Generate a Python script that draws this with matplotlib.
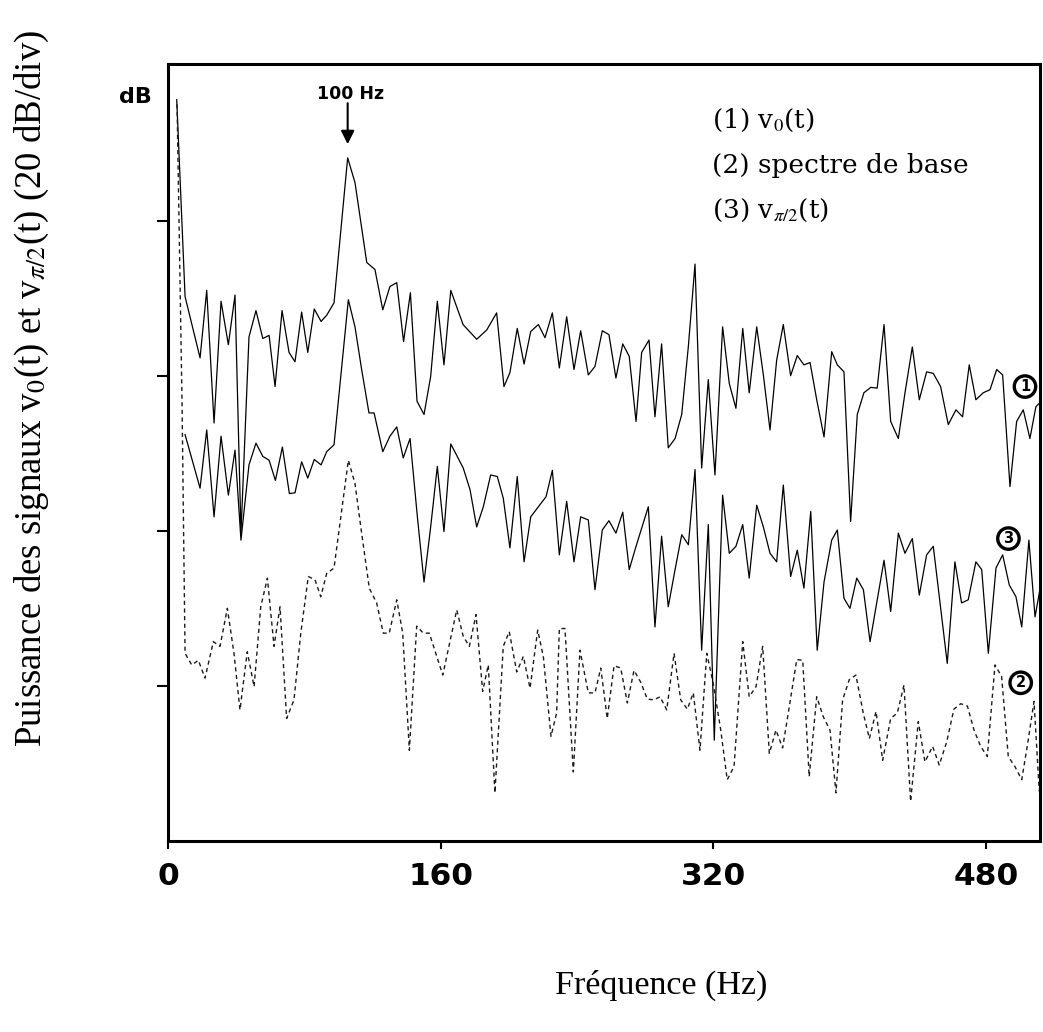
import matplotlib
matplotlib.use("Agg")
import matplotlib.pyplot as plt

plt.rcParams["mathtext.fontset"] = "stix"

# frequency (Hz) and power (dB)
freq_v0 = [5.1, 10.0, 18.8, 22.7, 27.0, 31.1, 35.4, 39.3, 42.8, 47.5, 51.6, 55.6, 59.3, 62.8,
           66.9, 71.0, 74.5, 78.4, 82.0, 85.8, 89.8, 93.1, 97.4, 105.4, 109.7, 116.6, 121.4,
           126.0, 130.2, 134.2, 138.2, 142.2, 146.1, 150.2, 154.1, 158.0, 161.9, 165.9, 173.1,
           181.1, 187.0, 192.8, 197.1, 200.6, 204.9, 208.9, 212.8, 217.3, 221.2, 225.5, 229.6,
           233.9, 238.2, 242.1, 246.6, 250.5, 254.8, 258.7, 262.8, 266.8, 270.6, 274.6, 277.9,
           282.2, 285.7, 289.6, 293.5, 297.5, 301.4, 305.3, 309.2, 313.1, 317.0, 320.9, 325.4,
           329.3, 333.2, 337.2, 341.0, 345.4, 349.3, 353.2, 357.1, 361.0, 365.3, 369.2, 373.1,
           376.7, 380.6, 384.9, 389.4, 392.7, 396.6, 400.5, 404.4, 408.3, 412.3, 416.1, 420.1,
           424.0, 428.5, 432.4, 436.7, 440.8, 445.1, 449.0, 453.3, 457.8, 462.3, 466.2, 470.1,
           474.0, 478.3, 482.3, 486.2, 489.7, 494.0, 497.9, 501.8, 505.7, 509.2, 513.2]
db_v0 = [95.6, 70.2, 62.3, 71.0, 53.9, 69.6, 64.0, 70.4, 39.7, 65.0, 68.4, 64.8, 65.2, 58.6,
         68.4, 63.0, 61.8, 68.2, 63.0, 68.6, 67.0, 67.8, 69.4, 88.1, 84.9, 74.6, 73.7,
         68.5, 71.5, 72.0, 64.4, 70.7, 56.7, 55.0, 59.9, 69.6, 61.4, 71.0, 66.6,
         64.7, 65.9, 68.1, 58.6, 60.4, 66.1, 61.5, 65.7, 66.6, 64.9, 68.1, 61.0,
         67.6, 60.8, 65.8, 60.1, 61.2, 65.8, 65.3, 59.7, 64.1, 62.5, 54.1, 63.0,
         64.6, 54.7, 64.1, 50.7, 51.9, 55.0, 63.8, 74.4, 48.1, 59.5, 47.2, 66.3,
         59.0, 55.8, 66.1, 57.8, 66.3, 60.1, 53.0, 62.0, 66.6, 60.0, 62.6, 61.4,
         61.7, 56.9, 52.1, 63.1, 61.4, 60.5, 41.2, 55.0, 57.8, 58.5, 58.4, 66.6,
         54.1, 51.9, 57.8, 63.7, 56.9, 60.5, 60.3, 58.6, 53.7, 55.6, 54.7, 61.4,
         56.9, 57.8, 58.2, 60.8, 60.1, 45.7, 54.1, 55.6, 51.9, 56.0, 56.9]

freq_vpi2 = [10.0, 18.8, 22.7, 27.0, 31.1, 35.4, 39.3, 42.8, 47.5, 51.6, 55.6, 59.3, 63.0, 67.1,
             71.2, 74.5, 78.4, 82.0, 85.8, 89.8, 93.1, 97.4, 105.8, 109.7, 113.6, 117.9, 120.9,
             126.0, 130.2, 134.2, 138.0, 142.0, 146.3, 150.2, 154.1, 158.0, 161.9, 165.9, 173.2,
             177.2, 181.1, 185.0, 189.3, 193.2, 196.7, 200.6, 204.9, 208.9, 212.8, 217.3, 221.8,
             225.5, 229.6, 233.9, 238.2, 242.1, 246.6, 250.5, 254.8, 258.7, 262.8, 266.8, 270.6,
             274.6, 281.8, 285.7, 289.6, 293.5, 297.5, 301.4, 305.3, 309.2, 313.1, 317.0, 320.5,
             325.4, 329.3, 333.2, 337.2, 341.0, 345.4, 349.3, 353.2, 357.1, 361.0, 365.3, 369.2,
             373.1, 377.1, 380.9, 384.9, 389.4, 392.7, 396.6, 400.1, 404.1, 408.0, 411.9, 420.1,
             424.0, 428.5, 432.4, 436.7, 440.8, 445.1, 449.0, 457.2, 461.7, 465.6, 469.5, 474.0,
             477.4, 481.3, 485.8, 489.7, 493.6, 497.5, 500.9, 505.1, 508.7, 512.6]
db_vpi2 = [52.4, 45.5, 53.0, 41.8, 52.2, 44.6, 50.4, 38.8, 48.5, 51.3, 49.6, 49.1, 46.5, 50.8,
           44.8, 44.9, 48.9, 46.8, 49.2, 48.5, 50.2, 51.1, 69.8, 66.3, 60.8, 55.2, 55.2,
           50.2, 52.2, 53.4, 49.4, 51.9, 41.8, 33.4, 40.5, 48.3, 39.9, 51.2, 48.1,
           45.3, 40.5, 43.1, 47.2, 47.0, 44.2, 37.8, 47.0, 36.0, 41.8, 43.1, 44.4,
           47.8, 36.9, 43.8, 36.0, 41.8, 41.4, 32.4, 40.1, 41.3, 39.7, 42.4, 35.0,
           38.0, 43.1, 27.6, 39.3, 30.2, 35.0, 39.5, 38.2, 47.9, 24.6, 40.8, 13.0,
           44.6, 37.1, 38.0, 40.8, 33.9, 43.3, 40.5, 37.1, 36.0, 45.9, 34.1, 37.5,
           32.6, 42.5, 24.6, 33.4, 38.8, 40.1, 31.3, 30.0, 33.9, 32.4, 25.7, 36.2,
           29.6, 39.7, 37.1, 39.0, 31.7, 36.9, 38.0, 22.9, 36.0, 30.7, 31.1, 36.0,
           35.0, 24.2, 35.2, 36.9, 33.0, 31.5, 27.6, 38.8, 28.9, 33.7]

freq_base = [5.3, 8.2, 10.0, 13.9, 17.8, 21.7, 26.6, 30.5, 34.8, 38.7, 42.2, 46.5, 50.5, 54.4,
             58.3, 62.2, 65.7, 69.6, 73.9, 77.9, 82.3, 86.2, 89.6, 93.1, 97.4, 105.8, 109.7,
             113.6, 118.1, 122.4, 126.3, 129.8, 134.2, 137.7, 141.6, 145.9, 149.8, 153.3, 161.2,
             169.4, 173.2, 176.8, 180.7, 184.6, 187.9, 191.8, 196.7, 200.2, 204.6, 208.5, 212.4,
             216.9, 220.2, 224.7, 228.0, 229.6, 232.9, 237.8, 241.7, 246.6, 250.5, 253.9, 257.7,
             261.7, 265.6, 269.5, 273.4, 277.3, 281.2, 285.1, 288.7, 292.6, 296.9, 300.8, 304.7,
             308.2, 312.1, 316.1, 319.9, 324.3, 328.1, 332.1, 337.2, 341.0, 345.0, 348.9, 352.8,
             356.7, 360.6, 364.5, 368.9, 372.4, 376.2, 380.6, 384.5, 388.4, 391.9, 395.8, 399.7,
             403.6, 407.9, 411.5, 415.4, 419.3, 424.0, 427.9, 431.8, 435.7, 440.2, 444.1, 448.6,
             452.5, 456.9, 461.1, 465.1, 469.0, 472.9, 476.8, 480.7, 485.2, 489.1, 493.0, 496.9,
             500.9, 504.7, 508.1, 511.2]
db_base = [95.0, 56.9, 24.2, 22.7, 23.3, 21.0, 25.7, 25.1, 30.0, 24.2, 16.9, 24.4, 19.9, 30.2,
           33.9, 25.1, 30.2, 15.8, 18.2, 26.8, 34.1, 33.7, 31.5, 34.5, 35.2, 49.1, 46.1,
           39.7, 32.6, 30.7, 26.8, 26.8, 31.1, 26.8, 11.7, 27.7, 26.8, 26.8, 21.4,
           29.8, 26.4, 25.1, 29.2, 19.3, 22.7, 6.2, 25.1, 27.0, 21.8, 23.8, 19.7,
           27.2, 23.8, 13.5, 16.5, 27.4, 27.4, 8.9, 24.6, 19.1, 19.1, 22.3, 15.8,
           22.6, 22.3, 17.8, 22.0, 20.5, 18.3, 18.2, 18.6, 16.9, 24.2, 18.2, 17.0,
           19.1, 11.7, 24.2, 20.3, 14.3, 7.9, 9.6, 25.7, 18.6, 19.9, 25.1, 11.3,
           14.3, 12.0, 17.3, 23.4, 23.3, 8.3, 18.6, 16.0, 14.3, 6.2, 18.2, 20.8,
           21.4, 16.5, 13.2, 16.7, 10.4, 15.8, 16.5, 20.1, 5.1, 15.4, 10.2, 12.2,
           9.8, 12.8, 17.0, 17.7, 17.4, 14.3, 12.2, 10.9, 22.7, 21.2, 10.9, 9.6,
           7.9, 13.0, 18.0, 6.4]

x_ticks = [0, 160, 320, 480]
y_ticks = [20, 40, 60, 80]
legend_lines = ["(1) v$_0$(t)", "(2) spectre de base", "(3) v$_{\\pi/2}$(t)"]

fig = plt.figure(figsize=(10.43, 10.32), dpi=100)
ax = fig.add_axes([0.1611, 0.1851, 0.8360, 0.7529])

ax.plot(freq_v0, db_v0, color="black", lw=0.9)
ax.plot(freq_vpi2, db_vpi2, color="black", lw=0.9)
ax.plot(freq_base, db_base, color="#1a1a1a", lw=1.0, linestyle=(0, (3, 2.5)))

ax.set_xlim(0, 511.6)
ax.set_ylim(0, 100.2)

for s in ax.spines.values():
    s.set_linewidth(2.2)

ax.set_xticks(x_ticks)
ax.set_xticklabels([str(t) for t in x_ticks], fontsize=22.5, fontweight="bold",
                   family="DejaVu Sans")
ax.set_yticks(y_ticks)
ax.set_yticklabels([])
ax.tick_params(axis="x", direction="out", length=6, width=1.5, pad=9)
ax.tick_params(axis="y", direction="out", length=8, width=1.5)

# annotations
ax.annotate("", xy=(105.4, 89.5), xytext=(105.4, 95.5),
            arrowprops=dict(arrowstyle="-|>", color="black", lw=1.5, mutation_scale=20))
ax.text(107.0, 96.3, "100 Hz", ha="center", va="center", fontsize=12.5,
        fontweight="bold", family="DejaVu Sans")
fig.text(135 / 1043, 1 - 97 / 1032, "dB", ha="center", va="center", fontsize=16,
         fontweight="bold", family="DejaVu Sans")

for i, line in enumerate(legend_lines):
    fig.text(712 / 1043, 1 - (120 + i * 45) / 1032, line, ha="left", va="center",
             fontsize=19, family="DejaVu Serif")

circ = dict(boxstyle="circle,pad=0.22", fc="white", ec="black", lw=2.4)
ax.text(502.8, 58.6, "1", ha="center", va="center", fontsize=10.5, fontweight="bold", bbox=circ)
ax.text(493.1, 39.0, "3", ha="center", va="center", fontsize=10.5, fontweight="bold", bbox=circ)
ax.text(500.3, 20.4, "2", ha="center", va="center", fontsize=10.5, fontweight="bold", bbox=circ)

fig.text(32 / 1043, 1 - 388 / 1032,
         "Puissance des signaux v$_0$(t) et v$_{\\pi/2}$(t) (20 dB/div)",
         rotation=90, ha="center", va="center", fontsize=26.5, family="Liberation Serif")
fig.text(661 / 1043, 1 - 985 / 1032, "Fréquence (Hz)", ha="center", va="center",
         fontsize=24.5, family="Liberation Serif")

fig.savefig("out.png", dpi=100)
